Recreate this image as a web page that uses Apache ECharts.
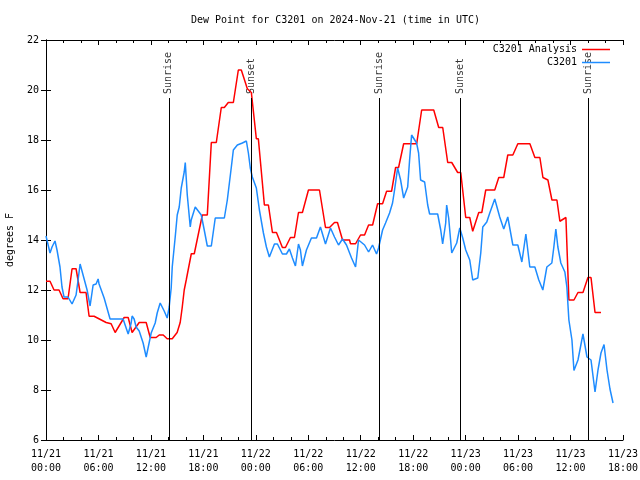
<!DOCTYPE html>
<html><head><meta charset="utf-8">
<script src="https://cdn.jsdelivr.net/npm/echarts/dist/echarts.min.js"></script>
<style>html,body{margin:0;padding:0;background:#fff}#c{width:640px;height:480px}</style>
</head><body><div id="c"></div>
<script>
// Hours since 2024-11-21 00:00 UTC
const redHours = [0.00,0.46,0.92,1.49,1.95,2.52,2.98,3.44,3.90,4.58,4.93,5.50,6.88,7.45,7.91,8.94,9.40,9.85,10.66,11.46,11.92,12.60,12.95,13.41,13.86,14.44,15.00,15.35,15.58,15.81,16.04,16.62,16.96,17.88,18.45,18.91,19.48,20.05,20.40,20.85,21.43,22.00,22.34,23.03,23.49,24.06,24.29,24.98,25.44,25.90,26.36,27.04,27.39,27.96,28.42,28.88,29.33,30.02,31.28,31.97,32.43,33.00,33.34,33.92,34.72,34.83,35.41,35.98,36.44,36.90,37.36,37.93,38.50,38.96,39.53,39.99,40.33,40.91,42.40,42.97,44.35,44.92,45.38,45.95,46.41,47.09,47.44,48.01,48.47,48.81,49.50,49.85,50.30,51.33,51.79,52.36,52.82,53.40,53.97,55.35,55.92,56.49,56.84,57.41,57.87,58.44,58.78,59.47,59.81,60.39,60.85,61.42,61.99,62.34,62.80,63.48];
const redValues = [12.35,12.35,12.0,12.0,11.65,11.65,12.85,12.85,11.9,11.9,10.95,10.95,10.7,10.65,10.3,10.9,10.9,10.3,10.7,10.7,10.1,10.1,10.2,10.2,10.05,10.05,10.3,10.7,11.3,12.0,12.4,13.45,13.45,15.0,15.0,17.9,17.9,19.3,19.3,19.5,19.5,20.8,20.8,20.05,19.9,18.05,18.05,15.4,15.4,14.3,14.3,13.7,13.7,14.1,14.1,15.1,15.1,16.0,16.0,14.5,14.5,14.7,14.7,14.0,14.0,13.85,13.85,14.2,14.2,14.6,14.6,15.45,15.45,15.95,15.95,16.9,16.9,17.85,17.85,19.2,19.2,18.5,18.5,17.1,17.1,16.7,16.7,14.9,14.9,14.35,15.1,15.1,16.0,16.0,16.5,16.5,17.4,17.4,17.85,17.85,17.3,17.3,16.5,16.4,15.6,15.6,14.75,14.9,11.6,11.6,11.9,11.9,12.5,12.5,11.1,11.1];

const blueHours = [0.00,0.11,0.46,0.69,1.03,1.26,1.60,1.83,2.06,2.52,2.98,3.44,3.67,3.90,4.24,4.70,5.04,5.39,5.73,5.96,6.07,6.65,7.33,8.82,9.40,9.74,9.85,10.08,10.31,10.66,11.11,11.46,12.03,12.49,12.72,13.06,13.52,13.86,13.98,14.09,14.32,14.44,14.78,15.01,15.24,15.47,15.81,15.93,16.16,16.50,16.61,17.07,17.76,18.10,18.45,18.91,19.36,20.40,20.74,21.20,21.43,21.89,22.46,22.92,23.15,23.37,23.60,24.06,24.41,24.87,25.21,25.55,26.13,26.47,27.04,27.50,27.84,28.19,28.53,28.88,29.10,29.33,29.79,30.36,30.94,31.39,31.97,32.54,33.00,33.46,33.92,34.37,34.95,35.41,35.75,36.44,36.90,37.35,37.81,38.04,38.50,38.84,39.30,39.64,39.87,40.22,40.56,40.91,41.37,41.59,41.82,42.39,42.62,42.85,43.31,43.66,43.88,44.80,45.15,45.37,45.72,45.83,46.06,46.41,46.98,47.33,47.67,48.01,48.47,48.81,49.39,49.73,49.96,50.42,50.76,51.33,51.90,52.36,52.82,53.40,53.97,54.43,54.89,55.34,55.92,56.37,56.83,57.29,57.86,58.09,58.32,58.55,58.89,59.35,59.58,59.81,60.16,60.39,60.85,61.42,61.88,62.34,62.80,63.14,63.48,63.83,64.17,64.51,64.86];
const blueValues = [14.16,14.0,13.48,13.72,13.96,13.6,12.92,12.12,11.72,11.72,11.44,11.8,12.4,13.04,12.6,12.0,11.36,12.2,12.24,12.44,12.24,11.68,10.84,10.84,10.24,10.68,10.96,10.84,10.52,10.36,9.88,9.32,10.28,10.68,11.08,11.48,11.16,10.88,10.84,11.32,12.08,12.92,14.12,15.0,15.32,16.08,16.72,17.1,15.8,14.52,14.8,15.32,15.0,14.4,13.76,13.76,14.88,14.88,15.6,16.92,17.6,17.8,17.88,17.96,17.48,16.88,16.52,16.08,15.2,14.28,13.72,13.32,13.84,13.84,13.44,13.44,13.64,13.28,12.96,13.84,13.6,12.96,13.6,14.08,14.08,14.52,13.84,14.48,14.12,13.8,14.04,13.8,13.28,12.92,14.0,13.8,13.52,13.8,13.44,13.68,14.4,14.68,15.08,15.48,16.0,16.88,16.4,15.68,16.12,17.2,18.2,17.88,17.48,16.4,16.32,15.4,15.04,15.04,14.4,13.84,14.68,15.4,14.88,13.48,13.88,14.48,14.08,13.6,13.2,12.4,12.48,13.48,14.52,14.72,15.08,15.64,14.92,14.44,14.92,13.8,13.8,13.12,14.24,12.92,12.92,12.4,12.0,12.92,13.08,13.72,14.44,13.72,13.08,12.72,12.12,10.8,10.0,8.78,9.2,10.24,9.32,9.2,7.92,8.8,9.48,9.82,8.8,8.04,7.48];

const sunHours = [14.05, 23.45, 38.1, 47.35, 62.03];
const sunLabels = ['Sunrise', 'Sunset', 'Sunrise', 'Sunset', 'Sunrise'];
const xTickLabels = ['11/21\n00:00','11/21\n06:00','11/21\n12:00','11/21\n18:00','11/22\n00:00','11/22\n06:00','11/22\n12:00','11/22\n18:00','11/23\n00:00','11/23\n06:00','11/23\n12:00','11/23\n18:00'];
const seriesNames = ['C3201 Analysis', 'C3201'];

const FONT = 'DejaVu Sans Mono';
const chart = echarts.init(document.getElementById('c'), null, {renderer: 'canvas'});
const pairs = (h, v) => h.map((x, i) => [x, v[i]]);
const lineTop = 19.68, labelAnchor = 19.84;

const xBase = {
  type: 'value', min: 0, max: 66, interval: 6,
  axisLine: {show: true, lineStyle: {color: '#000', width: 1}},
  axisTick: {show: true, inside: true, length: 5, lineStyle: {color: '#000'}},
  minorTick: {show: true, splitNumber: 3, length: 3, lineStyle: {color: '#000'}},
  splitLine: {show: false}
};
const yBase = {
  type: 'value', min: 6, max: 22, interval: 2,
  axisLine: {show: true, lineStyle: {color: '#000', width: 1}},
  axisTick: {show: true, inside: true, length: 5, lineStyle: {color: '#000'}},
  splitLine: {show: false}
};

chart.setOption({
  animation: false,
  backgroundColor: '#fff',
  title: {
    text: 'Dew Point for C3201 on 2024-Nov-21 (time in UTC)',
    left: 186, top: 10,
    textStyle: {fontFamily: FONT, fontSize: 10, fontWeight: 'normal', color: '#000'}
  },
  legend: {
    data: seriesNames,
    orient: 'vertical', right: 25, top: 38, align: 'right',
    icon: 'rect', itemWidth: 28, itemHeight: 1.5, itemGap: 0,
    textStyle: {fontFamily: FONT, fontSize: 10, color: '#000', lineHeight: 13},
    selectedMode: false
  },
  grid: {left: 46, right: 17, top: 40, bottom: 40, containLabel: false, outerBoundsMode: 'none'},
  xAxis: [
    Object.assign({}, xBase, {position: 'bottom',
      axisLabel: {show: true, margin: 7, fontFamily: FONT, fontSize: 10, color: '#000', lineHeight: 14,
        formatter: v => xTickLabels[Math.round(v / 6)]}}),
    Object.assign({}, xBase, {position: 'top', axisLabel: {show: false}})
  ],
  yAxis: [
    Object.assign({}, yBase, {position: 'left', name: 'degrees F', nameLocation: 'middle', nameGap: 31, nameRotate: 90,
      nameTextStyle: {fontFamily: FONT, fontSize: 10, color: '#000'},
      axisLabel: {show: true, margin: 7, fontFamily: FONT, fontSize: 10, color: '#000'}}),
    Object.assign({}, yBase, {position: 'right', axisLabel: {show: false}})
  ],
  series: [
    {
      name: seriesNames[0], type: 'line', data: pairs(redHours, redValues),
      showSymbol: false, symbol: 'none', z: 3,
      lineStyle: {color: '#ff0000', width: 1.5}, itemStyle: {color: '#ff0000'}
    },
    {
      name: seriesNames[1], type: 'line', data: pairs(blueHours, blueValues),
      showSymbol: false, symbol: 'none', z: 4,
      lineStyle: {color: '#1e8cff', width: 1.5}, itemStyle: {color: '#1e8cff'}
    },
    {
      name: 'sun', type: 'scatter', symbolSize: 0, z: 2, silent: true,
      data: sunHours.map((t, i) => ({value: [t, labelAnchor], label: {formatter: sunLabels[i]}})),
      label: {show: true, position: [0, 0], rotate: 90, align: 'left', verticalAlign: 'middle',
        fontFamily: FONT, fontSize: 10, color: '#000'},
      markLine: {
        silent: true, symbol: ['none', 'none'], label: {show: false},
        lineStyle: {color: '#000', width: 1, type: 'solid'},
        data: sunHours.map(t => [{coord: [t, lineTop]}, {coord: [t, 6]}])
      }
    }
  ]
});
</script></body></html>
